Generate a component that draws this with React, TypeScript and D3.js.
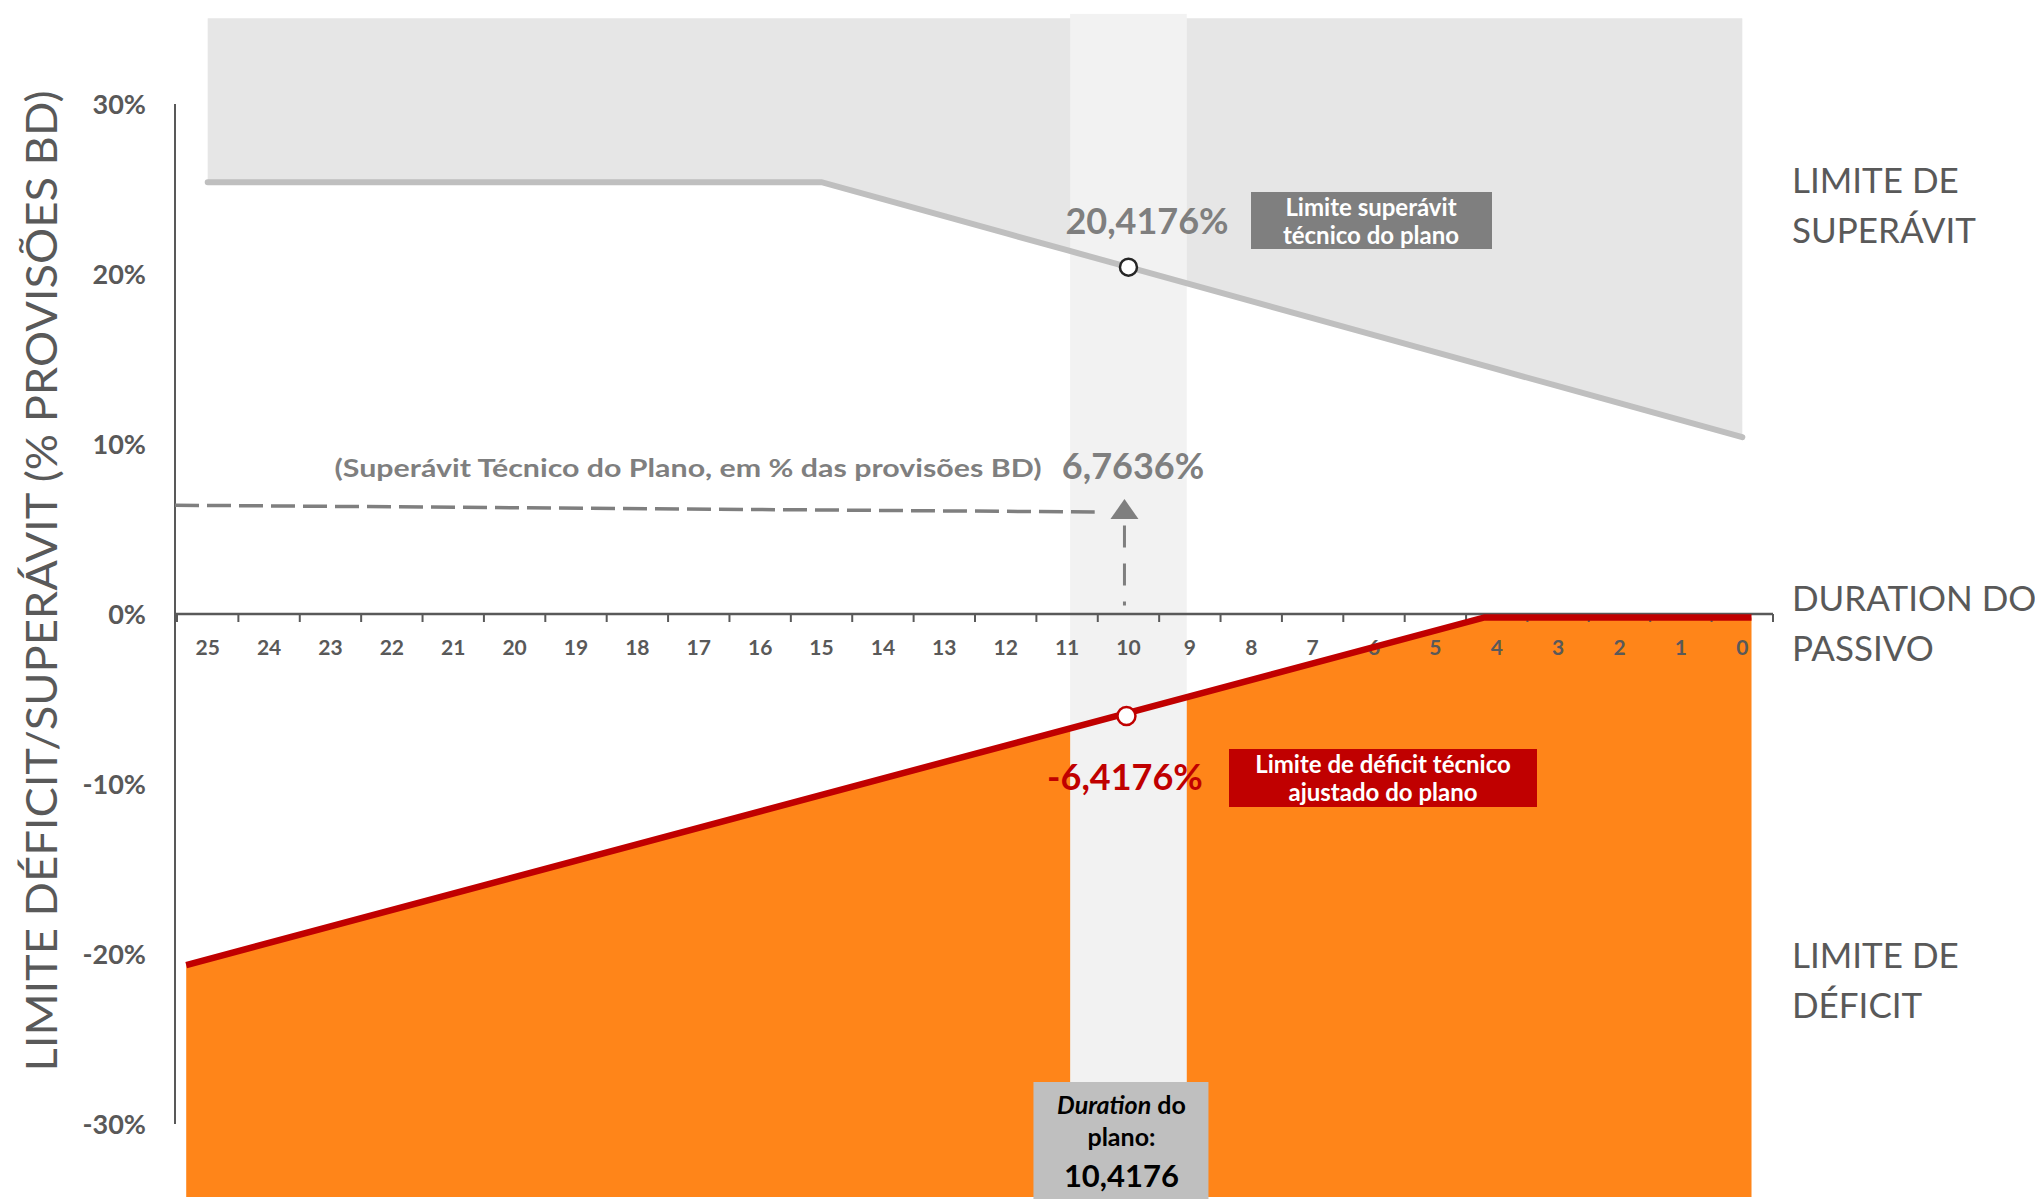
import React from 'react';
import * as d3 from 'd3';

// duração do passivo (eixo x, invertido: 25 -> 0)
const durations = ['25', '24', '23', '22', '21', '20', '19', '18', '17', '16', '15', '14', '13', '12',
  '11', '10', '9', '8', '7', '6', '5', '4', '3', '2', '1', '0'];

// limite de superávit (% provisões BD)
const surplusLimit = [25.4, 25.4, 25.4, 25.4, 25.4, 25.4, 25.4, 25.4, 25.4, 25.4, 25.4, 24.4, 23.4,
  22.4, 21.4, 20.4, 19.4, 18.4, 17.4, 16.4, 15.4, 14.4, 13.4, 12.4, 11.4, 10.4];

// limite de déficit: a linha vermelha vem com vértices próprios
const deficitDuration = [25.35, 4.2, -0.15];
const deficitLimit = [-20.65, -0.2, -0.2];

const yTicks = [30, 20, 10, 0, -10, -20, -30];

// valores do plano
const planDuration = 10.4176;
const planSurplusLimit = 20.4176;
const planDeficitLimit = -6.4176;
const planSurplus = 6.7636;

// onde a figura desenha as marcas do plano
const planMarkerDuration = 10;
const surplusMarkerValue = 20.4;
const deficitMarkerValue = -6.0;
const surplusDashValues = [6.4, 6.0];
const surplusDashEnd = 10.55;
const surplusStemValues = [5.2, 0.5];
const upperAreaTop = 35.05;
const lowerAreaBottom = -34.3;
const bandTop = 35.3;
const bandHalfWidth = 0.95;

const W = 2035;
const H = 1199;
const FONT = "Lato, 'Open Sans', sans-serif";
const AXIS = '#595959';
const NOTE = '#7F7F7F';
const RED = '#C00000';

const br = d3.formatLocale({ decimal: ',', thousands: '.', grouping: [3], currency: ['R$', ''] });
const fmt4 = br.format('.4f');

const App: React.FC = () => {
  const x = d3.scaleBand<string>().domain(durations).range([177, 1773]);
  const half = x.bandwidth() / 2;
  const xd = d3.scaleLinear()
    .domain([25, 0])
    .range([(x('25') as number) + half, (x('0') as number) + half]);
  const y = d3.scaleLinear().domain([-30, 30]).range([1124, 104]);
  const y0 = y(0);
  const axisX = 175;

  const idx = d3.range(durations.length);
  const supArea = d3.area<number>()
    .x(i => xd(+durations[i]))
    .y0(y(upperAreaTop))
    .y1(i => y(surplusLimit[i]))(idx);
  const supLine = d3.line<number>()
    .x(i => xd(+durations[i]))
    .y(i => y(surplusLimit[i]))(idx);

  const didx = d3.range(deficitDuration.length);
  const defArea = d3.area<number>()
    .x(i => xd(deficitDuration[i]))
    .y0(y(lowerAreaBottom))
    .y1(i => y(deficitLimit[i]))(didx);
  const defLine = d3.line<number>()
    .x(i => xd(deficitDuration[i]))
    .y(i => y(deficitLimit[i]))(didx);

  const mx = xd(planMarkerDuration);
  const apex = y(planSurplus);
  const tri = `M${mx},${apex} L${mx + 14},${apex + 20} L${mx - 14},${apex + 20} Z`;

  // centro vertical de maiúsculas -> linha de base
  const base = (cy: number, fs: number) => cy + 0.36 * fs;

  const rightLabel = (lines: string[], cy: number) =>
    lines.map((t, i) => (
      <text key={t} x={1792} y={base(cy + (i - 0.5) * 50, 35)} fontSize={35} fill={AXIS} fontFamily={FONT}>
        {t}
      </text>
    ));

  return (
    <svg width={W} height={H} style={{ position: 'absolute', left: 0, top: 0, background: '#fff' }}
      fontFamily={FONT}>
      <rect x={0} y={0} width={W} height={H} fill="#fff" />

      {/* áreas */}
      <path d={supArea ?? ''} fill="#E6E6E6" />
      <path d={defArea ?? ''} fill="#FF8519" />

      {/* faixa da duration do plano */}
      <rect x={xd(planMarkerDuration + bandHalfWidth)} y={y(bandTop)}
        width={xd(planMarkerDuration - bandHalfWidth) - xd(planMarkerDuration + bandHalfWidth)}
        height={y(lowerAreaBottom) - y(bandTop)} fill="#F2F2F2" />

      <path d={supLine ?? ''} fill="none" stroke="#BFBFBF" strokeWidth={6} strokeLinecap="round" />

      {/* eixo y */}
      <line x1={axisX} x2={axisX} y1={y(30)} y2={y(-30)} stroke={AXIS} strokeWidth={2} />
      {yTicks.map(t => (
        <text key={t} x={146} y={base(y(t), 27)} textAnchor="end" fontSize={27} fontWeight={700} fill={AXIS}>
          {`${t}%`}
        </text>
      ))}
      <text transform={`translate(41,${581}) rotate(-90)`} textAnchor="middle" dominantBaseline="central"
        fontSize={42} fill={AXIS} textLength={981} lengthAdjust="spacingAndGlyphs">
        LIMITE DÉFICIT/SUPERÁVIT (% PROVISÕES BD)
      </text>

      {/* eixo x */}
      <line x1={axisX} x2={1773} y1={y0} y2={y0} stroke={AXIS} strokeWidth={2.5} />
      {durations.map(d => (
        <line key={`t${d}`} x1={x(d) as number} x2={x(d) as number} y1={y0} y2={y0 + 8} stroke={AXIS} strokeWidth={2} />
      ))}
      <line x1={1773} x2={1773} y1={y0} y2={y0 + 8} stroke={AXIS} strokeWidth={2} />
      {durations.map(d => (
        <text key={`l${d}`} x={(x(d) as number) + half} y={base(647, 21)} textAnchor="middle"
          fontSize={21} fontWeight={700} fill={AXIS}>
          {d}
        </text>
      ))}

      <path d={defLine ?? ''} fill="none" stroke={RED} strokeWidth={6.5} />

      {/* superávit técnico do plano */}
      <line x1={axisX} x2={xd(surplusDashEnd)} y1={y(surplusDashValues[0])} y2={y(surplusDashValues[1])}
        stroke={NOTE} strokeWidth={3.5} strokeDasharray="24 8" />
      <line x1={mx - 4} x2={mx - 4} y1={y(surplusStemValues[0])} y2={y(surplusStemValues[1])}
        stroke={NOTE} strokeWidth={3} strokeDasharray="22 16" />
      <path d={tri} transform="translate(-4,0)" fill={NOTE} />

      {/* marcadores */}
      <circle cx={mx} cy={y(surplusMarkerValue)} r={8.5} fill="#fff" stroke="#262626" strokeWidth={2.5} />
      <circle cx={mx - 2} cy={y(deficitMarkerValue)} r={9} fill="#fff" stroke={RED} strokeWidth={2.5} />

      {/* rótulos de valor */}
      <text x={1147} y={base(221, 36)} textAnchor="middle" fontSize={36} fontWeight={700} fill={NOTE}>
        {`${fmt4(planSurplusLimit)}%`}
      </text>
      <text x={1133} y={base(466, 36)} textAnchor="middle" fontSize={36} fontWeight={700} fill={NOTE}>
        {`${fmt4(planSurplus)}%`}
      </text>
      <text x={1125} y={base(777, 36)} textAnchor="middle" fontSize={36} fontWeight={700} fill={RED}>
        {`-${fmt4(Math.abs(planDeficitLimit))}%`}
      </text>
      <text x={688} y={base(468, 25)} textAnchor="middle" fontSize={25} fontWeight={700} fill={NOTE}
        textLength={707} lengthAdjust="spacingAndGlyphs">
        (Superávit Técnico do Plano, em % das provisões BD)
      </text>

      {/* caixas */}
      <rect x={1251} y={192} width={241} height={57} fill={NOTE} />
      <text x={1371} y={216} textAnchor="middle" fontSize={24} fontWeight={700} fill="#fff">Limite superávit</text>
      <text x={1371} y={244} textAnchor="middle" fontSize={24} fontWeight={700} fill="#fff">técnico do plano</text>

      <rect x={1229} y={749} width={308} height={58} fill={RED} />
      <text x={1383} y={773} textAnchor="middle" fontSize={24} fontWeight={700} fill="#fff">Limite de déficit técnico</text>
      <text x={1383} y={801} textAnchor="middle" fontSize={24} fontWeight={700} fill="#fff">ajustado do plano</text>

      <rect x={mx - 95} y={1082} width={175} height={H - 1082} fill="#BFBFBF" />
      <text x={mx - 7} y={1114} textAnchor="middle" fontSize={25} fontWeight={700} fill="#000">
        <tspan fontStyle="italic">Duration</tspan>{' do'}
      </text>
      <text x={mx - 7} y={1146} textAnchor="middle" fontSize={25} fontWeight={700} fill="#000">plano:</text>
      <text x={mx - 7} y={1187} textAnchor="middle" fontSize={31} fontWeight={700} fill="#000">
        {fmt4(planDuration)}
      </text>

      {/* rótulos à direita */}
      {rightLabel(['LIMITE DE', 'SUPERÁVIT'], 205)}
      {rightLabel(['DURATION DO', 'PASSIVO'], 623)}
      {rightLabel(['LIMITE DE', 'DÉFICIT'], 980)}
    </svg>
  );
};

export default App;
